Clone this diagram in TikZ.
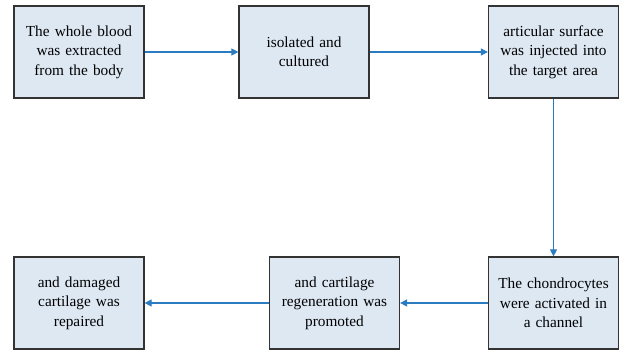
\documentclass[tikz,border=0pt]{standalone}
\usepackage{fontspec}
\setmainfont{Liberation Serif}
\usepackage{tikz}
\usetikzlibrary{arrows.meta,positioning}

\definecolor{boxfill}{HTML}{DDE8F3}
\definecolor{boxline}{HTML}{333333}
\definecolor{arrowblue}{HTML}{2B7BC1}

\tikzset{
	stepbox/.style={draw=boxline, fill=boxfill, line width=1.2pt, minimum width=130pt, minimum height=92pt, text width=126pt, align=center, inner sep=0pt, font=\fontsize{15.3}{19.5}\selectfont},
	flow/.style={draw=arrowblue, line width=1.1pt, -{Triangle[length=7pt,width=7pt]}}
}

\begin{document}
\begin{tikzpicture}[x=1pt,y=1pt]
		\useasboundingbox (0,0) rectangle (621,351);
		\node[stepbox] (blood) at (79,299) {The whole blood\\was extracted\\from the body};
		\node[stepbox] (iso) at (304,299) {isolated and\\cultured};
		\node[stepbox] (inj) at (553.5,299) {articular surface\\was injected into\\the target area};
		\node[stepbox] (chon) at (553.5,48) {The chondrocytes\\were activated in\\a channel};
		\node[stepbox] (regen) at (334.5,48) {and cartilage\\regeneration was\\promoted};
		\node[stepbox] (rep) at (79,48) {and damaged\\cartilage was\\repaired};
%		arrows between steps
		\draw[flow] (blood) -- (iso);
		\draw[flow] (iso) -- (inj);
		\draw[flow] (inj) -- (chon);
		\draw[flow] (chon) -- (regen);
		\draw[flow] (regen) -- (rep);
\end{tikzpicture}
\end{document}
